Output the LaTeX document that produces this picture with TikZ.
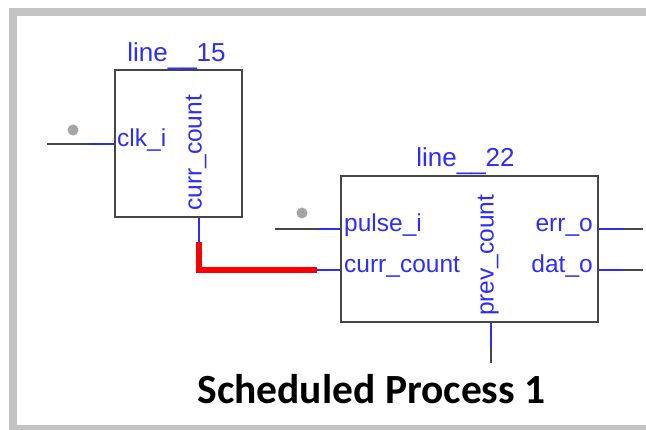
\documentclass[tikz,border=0pt]{standalone}
\usepackage{fontspec}
\setmainfont{Liberation Sans}
\newfontfamily\capfont{Carlito}
\usepackage{tikz}
\definecolor{pin-blue}{RGB}{45,45,250}
\definecolor{wire-gray}{RGB}{70,70,70}
\definecolor{frame-gray}{RGB}{195,195,195}
\definecolor{dot-gray}{RGB}{165,165,165}
\definecolor{net-red}{RGB}{250,0,0}

\begin{document}
\begin{tikzpicture}
[
  x=1pt, y=-1pt,
  blk/.style={rectangle,draw=wire-gray,line width=2pt,inner sep=0pt},
  lbl/.style={text=pin-blue,inner sep=0pt,font=\fontsize{24.5}{28}\selectfont},
  ttl/.style={lbl,font=\fontsize{26}{30}\selectfont},
  pin/.style={draw=pin-blue,line width=1.8pt},
  wire/.style={draw=wire-gray,line width=1.8pt},
  net/.style={draw=net-red,line width=6pt},
]
\useasboundingbox (0,0) rectangle (646,430);
\draw[frame-gray,line width=8pt] (652,12) -- (13,12) -- (13,429) -- (652,429);

\node[blk,minimum width=127pt,minimum height=147pt] (l15) at (178.5,144) {};
\node[blk,minimum width=257pt,minimum height=146pt] (l22) at (469.5,249) {};

\node[ttl,anchor=base] (t15) at (176.5,62) {line\raisebox{-3pt}{\_\_}15};
\node[ttl,anchor=base] (t22) at (465.5,167) {line\raisebox{-3pt}{\_\_}22};

% line__15
\coordinate (clk) at (47,144);
\coordinate (clkb) at (89,144);
\draw[wire] (clk) -- (clkb);
\draw[pin] (clkb) -- (l15.west);
\fill[dot-gray] (73,130) circle[radius=5.5pt];
\node[lbl,anchor=mid west] (clklbl) at ([xshift=3]l15.west) {clk\_i};
\node[lbl,rotate=90,anchor=mid west] (cclbl) at (199,211) {curr\_count};

% net curr_count
\coordinate (cc) at (199,242);
\coordinate (cr) at (199,270);
\coordinate (ce) at (317,270);
\draw[pin] (cc |- l15.south) -- (cc);
\draw[net] (cc) -- (cr) -- (ce);
\draw[pin] (ce) -- (ce -| l22.west);

% line__22
\coordinate (pul) at (275,229);
\coordinate (pulb) at (318,229);
\draw[wire] (pul) -- (pulb);
\draw[pin] (pulb) -- (pulb -| l22.west);
\fill[dot-gray] (302,213) circle[radius=5.5pt];
\node[lbl,anchor=mid west] (pullbl) at ([xshift=4]l22.west |- pul) {pulse\_i};
\node[lbl,anchor=mid west] (ccin) at ([xshift=4]l22.west |- ce) {curr\_count};
\node[lbl,rotate=90,anchor=mid west] (pclbl) at (491,316) {prev\_count};

\coordinate (pc) at (491,348);
\coordinate (pce) at (491,363);
\draw[pin] (pc |- l22.south) -- (pc);
\draw[wire] (pc) -- (pce);

\coordinate (err) at (623,229);
\coordinate (erre) at (643,229);
\coordinate (dat) at (623,270);
\coordinate (date) at (643,270);
\draw[pin] (err -| l22.east) -- (err);
\draw[wire] (err) -- (erre);
\draw[pin] (dat -| l22.east) -- (dat);
\draw[wire] (dat) -- (date);
\node[lbl,anchor=mid east] (errlbl) at ([xshift=-6]l22.east |- err) {err\_o};
\node[lbl,anchor=mid east] (datlbl) at ([xshift=-6]l22.east |- dat) {dat\_o};

\node[anchor=base,inner sep=0pt,font=\capfont\bfseries\fontsize{41.5}{46}\selectfont] (cap) at (371.5,404) {Scheduled Process 1};
\end{tikzpicture}
\end{document}
